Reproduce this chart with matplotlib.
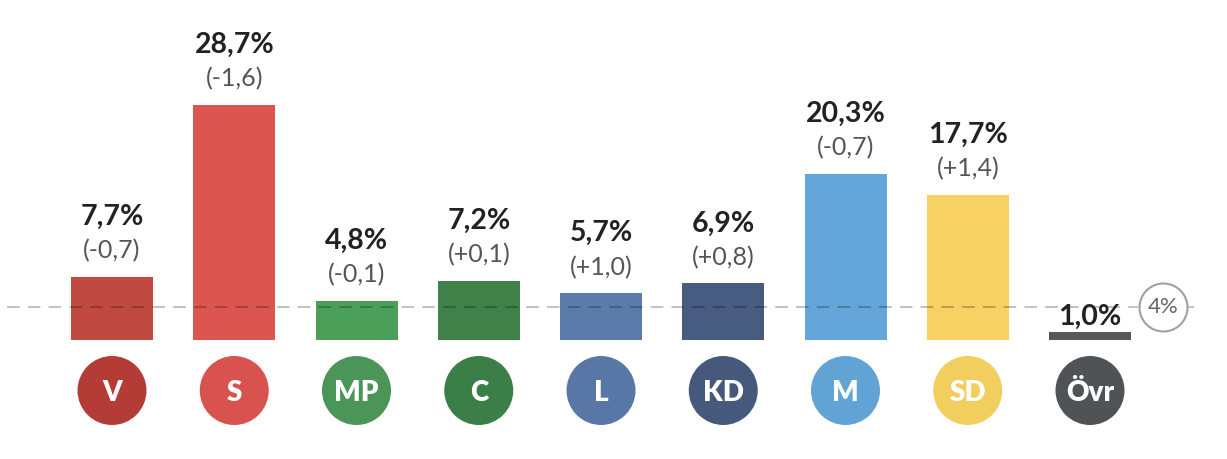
import matplotlib
matplotlib.use("Agg")
import matplotlib.pyplot as plt
from matplotlib import transforms

parties = ["V", "S", "MP", "C", "L", "KD", "M", "SD", "Övr"]
values = [7.7, 28.7, 4.8, 7.2, 5.7, 6.9, 20.3, 17.7, 1.0]
value_labels = ["7,7%", "28,7%", "4,8%", "7,2%", "5,7%", "6,9%", "20,3%", "17,7%", "1,0%"]
changes = ["(-0,7)", "(-1,6)", "(-0,1)", "(+0,1)", "(+1,0)", "(+0,8)", "(-0,7)", "(+1,4)", None]
bar_colors = ["#c04a42", "#dc5551", "#4c9f59", "#3f8149", "#5b7bab", "#485b80", "#64a6da", "#f7d163", "#54575b"]
circle_colors = ["#b43c37", "#d8534f", "#4a9557", "#3c7e47", "#5877a6", "#46597c", "#62a3d6", "#f2ce5f", "#505356"]
threshold = 4.0
threshold_label = "4%"

W, H, DPI = 1227, 459, 100
fig = plt.figure(figsize=(W / DPI, H / DPI), dpi=DPI)
ax = fig.add_axes([0, 0, 1, 1])

x0_px, step_px = 112, 122.25
base_px = 340  # from top
ppu = 8.19      # pixels per percent
ax.set_xlim(-x0_px / step_px, (W - x0_px) / step_px)
ax.set_ylim(-(H - base_px) / ppu, base_px / ppu)
ax.axis("off")

FONT = ["Lato", "DejaVu Sans"]
xs = list(range(len(parties)))
bw = 82 / step_px
ax.bar(xs, values, width=bw, color=bar_colors, zorder=2)

# threshold dashed line
x_left = (7 - x0_px) / step_px
x_circ = (1163 - x0_px) / step_px
r_circ_x = 25 / step_px
x_right = (1194 - x0_px) / step_px
ax.plot([x_left, x_circ - r_circ_x], [threshold, threshold], color="black", alpha=0.26,
        lw=1.3, dashes=(7, 4.5), zorder=3)
ax.plot([x_circ + r_circ_x, x_right], [threshold, threshold], color="black", alpha=0.26,
        lw=1.3, dashes=(7, 4.5), zorder=3)
ax.scatter([x_circ], [threshold], s=(48 * 0.72) ** 2, facecolor="white", edgecolor="#a0a0a0",
           linewidth=1.5, zorder=4)
ax.text(x_circ, threshold, threshold_label, ha="center", va="center", fontsize=16,
        color="#666666", family=FONT, zorder=5)

# labels
for i, (v, vl, ch) in enumerate(zip(values, value_labels, changes)):
    if ch is not None:
        t1 = transforms.offset_copy(ax.transData, fig=fig, x=0, y=52 * 0.72, units="points")
        ax.text(i, v, vl, ha="center", va="baseline", fontsize=20.5, fontweight="bold",
                color="#222222", family=FONT, transform=t1)
        t2 = transforms.offset_copy(ax.transData, fig=fig, x=0, y=18.5 * 0.72, units="points")
        ax.text(i, v, ch, ha="center", va="baseline", fontsize=18, color="#555555",
                family=FONT, transform=t2)
    else:
        t1 = transforms.offset_copy(ax.transData, fig=fig, x=0, y=7 * 0.72, units="points")
        ax.text(i, v, vl, ha="center", va="baseline", fontsize=20.5, fontweight="bold",
                color="#222222", family=FONT, transform=t1)

# party circles
cy = -(390.5 - base_px) / ppu
ax.scatter(xs, [cy] * len(xs), s=(69 * 0.72) ** 2, c=circle_colors, linewidths=0, zorder=2)
for i, p in enumerate(parties):
    ax.text(i, cy, p, ha="center", va="center_baseline", fontsize=20, fontweight="heavy",
            color="white", family=FONT, zorder=3)

fig.savefig("out.png", dpi=DPI, facecolor="white")
